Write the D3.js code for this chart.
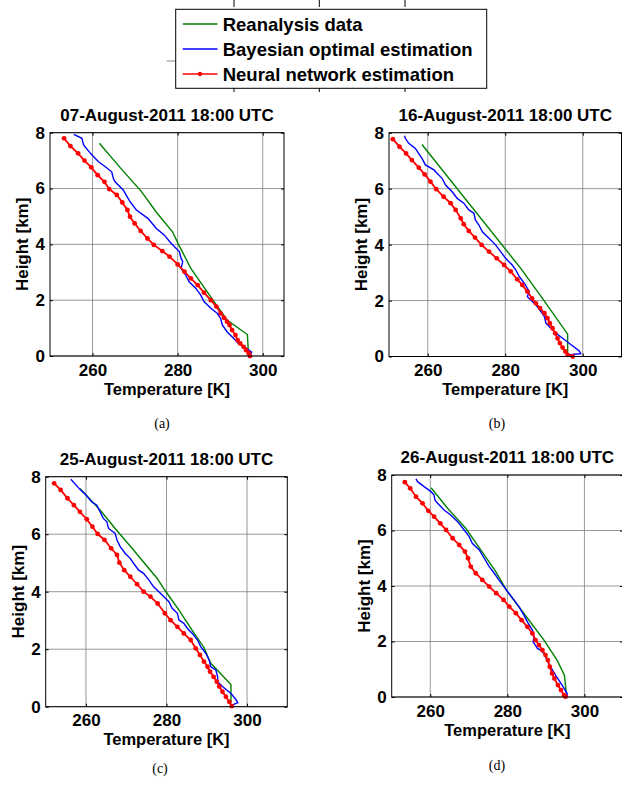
<!DOCTYPE html>
<html>
<head>
<meta charset="utf-8">
<script src="https://cdn.jsdelivr.net/npm/d3@7"></script>
<style>
 body{margin:0;background:#fff;}
 svg{display:block;}
 text{font-family:'Liberation Sans',Arial,sans-serif;}
</style>
</head>
<body>
<div id="chart"></div>
<script>
// values, [temperature K, height km]
var titles = ["07-August-2011 18:00 UTC","16-August-2011 18:00 UTC","25-August-2011 18:00 UTC","26-August-2011 18:00 UTC"];
var tags = ["(a)","(b)","(c)","(d)"];
var seriesNames = ["Reanalysis data","Bayesian optimal estimation","Neural network estimation"];
var xTicks = [260,280,300];
var yTicks = [0,2,4,6,8];

var reanA = [[261.6,7.62],[266.5,6.75],[271.5,5.89],[275,5.15],[278.8,4.45],[280.2,4.0],[283.1,3.14],[288.1,2.05],[291.6,1.29],[296.4,0.77],[296.6,0.2]];
var bayesA = [[255.6,7.94],[257.5,7.8],[257.9,7.56],[259.5,7.26],[261.4,6.96],[263,6.78],[264.5,6.6],[264.9,6.36],[265.3,6.24],[267.2,5.95],[268.8,5.53],[270.3,5.23],[273,4.93],[275,4.57],[276.9,4.33],[278.1,4.1],[279.2,3.92],[280.4,3.74],[280.8,3.5],[281.2,3.38],[280.8,3.14],[281.9,2.9],[282.7,2.66],[284.3,2.42],[285.4,2.19],[286.2,1.95],[287.8,1.71],[289.3,1.53],[290.1,1.35],[290.5,1.11],[291.6,0.87],[293.2,0.63],[294.3,0.45],[296.3,0.27],[297.4,0.14],[297,0.04]];
var nnA = [[253.3,7.8],[254.8,7.52],[256.6,7.26],[258.1,7.0],[259.7,6.76],[261.2,6.48],[262.8,6.24],[263.9,5.98],[265.7,5.77],[267,5.5],[268.2,5.23],[268.8,4.99],[269.9,4.75],[271.3,4.48],[272.9,4.21],[274.4,3.98],[276.4,3.76],[278.1,3.56],[280,3.28],[281.6,3.02],[283.1,2.78],[284.7,2.54],[286.2,2.27],[287.8,2.0],[289.1,1.77],[290.1,1.53],[290.9,1.37],[291.6,1.23],[292.2,1.11],[292.8,0.93],[293.6,0.75],[294.1,0.57],[294.7,0.45],[295.5,0.33],[296.1,0.21],[296.7,0.1],[297,0.0]];

var reanB = [[258.5,7.58],[284,3.15],[289.6,2.08],[296.1,0.8],[296.1,0.12]];
var bayesB = [[254,7.89],[254.2,7.8],[255.1,7.62],[256.8,7.44],[258.5,7.08],[259.4,6.85],[261.6,6.67],[262.4,6.55],[263.7,6.37],[264.6,6.13],[266.3,5.89],[267.6,5.65],[269.3,5.48],[270.6,5.24],[271.9,5.12],[272.3,4.88],[273.2,4.7],[274.1,4.46],[275.8,4.23],[277.5,3.99],[278.8,3.75],[280.1,3.51],[281.8,3.27],[282.7,3.1],[283.6,2.86],[284.9,2.62],[285.7,2.44],[286.2,2.32],[285.7,2.14],[286.6,2.02],[287.9,1.85],[289.2,1.61],[290.1,1.43],[290.5,1.19],[291.8,1.01],[293.1,0.83],[294.8,0.65],[297,0.42],[299.1,0.2],[299.5,0.1],[297.8,0.08],[296.5,0.06]];
var nnB = [[251,7.77],[252.7,7.5],[254.4,7.26],[255.9,7.02],[257.7,6.75],[259.2,6.51],[260.7,6.25],[262.2,5.98],[264.1,5.71],[265.9,5.48],[267.2,5.24],[268.5,4.94],[269.3,4.73],[270.6,4.49],[272.2,4.25],[273.9,3.99],[275.8,3.75],[277.8,3.51],[279.7,3.27],[281.4,3.04],[283.1,2.76],[284.4,2.56],[285.7,2.32],[286.9,2.08],[287.9,1.9],[289,1.73],[290.1,1.55],[290.9,1.37],[291.5,1.19],[292.2,1.01],[292.9,0.83],[293.5,0.65],[294.1,0.48],[294.8,0.32],[295.5,0.18],[296.1,0.06],[297.4,0.0]];

var reanC = [[258.5,7.59],[263.5,6.84],[267.25,6.2],[271.8,5.45],[277.7,4.46],[279.6,4.05],[283.1,3.36],[286.8,2.57],[289.3,2.06],[291,1.51],[296,0.77],[296,0.12]];
var bayesC = [[256.25,7.91],[258.5,7.56],[260,7.36],[261.4,7.13],[262.7,7.01],[263.5,6.78],[264.3,6.55],[265.2,6.43],[265.6,6.2],[267.25,6.03],[267.7,5.8],[268.5,5.57],[269.75,5.33],[271,5.16],[271.8,4.99],[273.1,4.75],[274.3,4.64],[275.6,4.41],[276.8,4.17],[278.1,4.0],[279.3,3.83],[280.6,3.65],[281.4,3.42],[282.7,3.25],[283.1,3.01],[284.3,2.9],[285.2,2.72],[286.4,2.55],[287.7,2.32],[288.5,2.09],[289.75,1.86],[290.6,1.62],[291,1.39],[292.25,1.28],[292.7,1.04],[292.7,0.87],[293.9,0.7],[296,0.46],[297.25,0.25],[297.7,0.14],[296.4,0.06]];
var nnC = [[252.1,7.77],[253.7,7.54],[255.4,7.25],[257,7.01],[258.5,6.78],[260.2,6.52],[261.6,6.26],[262.9,6.01],[264.6,5.8],[266.25,5.51],[267.7,5.28],[268.3,5.01],[269.5,4.75],[271,4.52],[272.7,4.26],[274.3,4.0],[276,3.83],[277.8,3.59],[279.6,3.25],[281,3.01],[282.7,2.78],[284.3,2.55],[286,2.32],[287.25,2.03],[288.3,1.8],[289.3,1.57],[290.2,1.39],[290.8,1.22],[291.7,1.04],[292.5,0.87],[293.1,0.7],[293.9,0.52],[294.75,0.35],[295.6,0.17],[296.2,0.02]];

var reanD = [[260.2,7.54],[264.5,6.8],[269.2,6.08],[273.1,5.3],[277,4.52],[280,3.8],[284.3,3.01],[289.5,2.05],[292.9,1.33],[294.8,0.79],[295.3,0.13]];
var bayesD = [[256.3,7.86],[256.7,7.76],[258.4,7.58],[260.2,7.4],[261,7.28],[261.2,7.1],[261.9,6.98],[263.6,6.74],[265.3,6.56],[267.1,6.32],[268.8,6.02],[270.1,5.78],[270.9,5.54],[272.7,5.3],[274,5.0],[275.3,4.7],[276.6,4.46],[277.8,4.22],[279.1,3.98],[280.4,3.74],[281.7,3.5],[283,3.26],[284.3,2.95],[285.2,2.71],[286.5,2.41],[286.9,2.17],[286.7,1.99],[287.8,1.75],[288.6,1.69],[289.5,1.57],[290.3,1.33],[291.2,1.09],[292.5,0.79],[294.2,0.43],[295.5,0.13],[295.5,0.04]];
var nnD = [[253.4,7.74],[254.8,7.52],[256.3,7.22],[258,6.98],[259.5,6.71],[261,6.5],[262.6,6.26],[264.1,6.02],[265.8,5.72],[267.5,5.48],[269,5.24],[269.8,5.0],[270.5,4.7],[271.8,4.46],[273.5,4.22],[275.3,3.98],[277.1,3.74],[279,3.5],[280.5,3.26],[282.2,3.02],[283.7,2.77],[285.2,2.53],[286.5,2.29],[287.3,2.05],[288.2,1.87],[289.1,1.69],[289.9,1.51],[290.5,1.33],[291,1.09],[291.6,0.85],[292.2,0.67],[293.1,0.43],[293.9,0.25],[294.7,0.07],[295.1,0.01]];

var W = 622, H = 787;
var svg = d3.select('#chart').append('svg')
    .attr('width', W).attr('height', H)
    .style('background-color', '#fff');

var colors = ['#008000', '#0000ff', '#ff0000'];

// panel boxes: left, right, top, bottom (pixels)
var panels = [
  {title: titles[0], tag: tags[0], box: [50, 284, 132.7, 356], xmax: 305, data: [reanA, bayesA, nnA], tagAt: [162, 428]},
  {title: titles[1], tag: tags[1], box: [389, 621.5, 132.7, 356.5], xmax: 310, data: [reanB, bayesB, nnB], tagAt: [497, 428]},
  {title: titles[2], tag: tags[2], box: [45.7, 287.3, 476.7, 706.7], xmax: 310, data: [reanC, bayesC, nnC], tagAt: [160, 773]},
  {title: titles[3], tag: tags[3], box: [391.7, 623, 475, 697], xmax: 310, data: [reanD, bayesD, nnD], tagAt: [497, 770]}
];

panels.forEach(drawPanel);

function drawPanel(p){
  var L = p.box[0], R = p.box[1], T = p.box[2], B = p.box[3];
  var x = d3.scaleLinear().domain([250, p.xmax]).range([L, R]);
  var y = d3.scaleLinear().domain([0, 8]).range([B, T]);
  var g = svg.append('g');

  // grid
  g.selectAll('line.gx').data(xTicks).enter().append('line')
    .attr('x1', function(d){ return x(d); }).attr('x2', function(d){ return x(d); })
    .attr('y1', T).attr('y2', B)
    .attr('stroke', '#7a7a7a').attr('stroke-width', 0.9).attr('stroke-opacity', 0.85);
  g.selectAll('line.gy').data(yTicks).enter().append('line')
    .attr('x1', L).attr('x2', R)
    .attr('y1', function(d){ return y(d); }).attr('y2', function(d){ return y(d); })
    .attr('stroke', '#7a7a7a').attr('stroke-width', 0.9).attr('stroke-opacity', 0.85);

  // curves
  var line = d3.line().x(function(d){ return x(d[0]); }).y(function(d){ return y(d[1]); });
  g.append('path').datum(p.data[0]).attr('d', line)
    .attr('fill', 'none').attr('stroke', colors[0]).attr('stroke-width', 1.4);
  g.append('path').datum(p.data[1]).attr('d', line)
    .attr('fill', 'none').attr('stroke', colors[1]).attr('stroke-width', 1.4);
  g.append('path').datum(p.data[2]).attr('d', line)
    .attr('fill', 'none').attr('stroke', colors[2]).attr('stroke-width', 1.8);
  g.selectAll('circle.nn').data(p.data[2]).enter().append('circle')
    .attr('cx', function(d){ return x(d[0]); })
    .attr('cy', function(d){ return y(d[1]); })
    .attr('r', 2.4).attr('fill', colors[2]);

  // axes with inward ticks
  var ax = g.append('g').attr('transform', 'translate(0,' + B + ')')
    .call(d3.axisBottom(x).tickValues(xTicks).tickSizeInner(-3).tickSizeOuter(0).tickPadding(7.5));
  var ay = g.append('g').attr('transform', 'translate(' + L + ',0)')
    .call(d3.axisLeft(y).tickValues(yTicks).tickSizeInner(-3).tickSizeOuter(0).tickPadding(5));
  g.append('g').attr('transform', 'translate(0,' + T + ')')
    .call(d3.axisTop(x).tickValues(xTicks).tickSizeInner(-3).tickSizeOuter(0).tickFormat(''));
  g.append('g').attr('transform', 'translate(' + R + ',0)')
    .call(d3.axisRight(y).tickValues(yTicks).tickSizeInner(-3).tickSizeOuter(0).tickFormat(''));
  g.selectAll('.domain').remove();
  g.selectAll('.tick line').attr('stroke', '#000');
  [ax, ay].forEach(function(a){
    a.selectAll('text').attr('font-size', '17px').attr('font-weight', 'bold')
      .style('font-family', "'Liberation Sans',Arial,sans-serif").attr('fill', '#000');
  });

  g.append('rect').attr('x', L).attr('y', T).attr('width', R - L).attr('height', B - T)
    .attr('fill', 'none').attr('stroke', '#000').attr('stroke-width', 1);

  // labels
  g.append('text').attr('x', (L + R) / 2).attr('y', T - 12)
    .attr('text-anchor', 'middle').attr('font-size', '17px').attr('font-weight', 'bold')
    .text(p.title);
  g.append('text').attr('x', (L + R) / 2).attr('y', B + 38.5)
    .attr('text-anchor', 'middle').attr('font-size', '16.5px').attr('font-weight', 'bold')
    .text('Temperature [K]');
  g.append('text')
    .attr('transform', 'translate(' + (L - 28) + ',' + ((T + B) / 2) + ') rotate(-90)')
    .attr('dy', '0.35em')
    .attr('text-anchor', 'middle').attr('font-size', '17px').attr('font-weight', 'bold')
    .text('Height [km]');
  // subfigure tag in a serif face (style beats the css rule above)
  svg.append('text').attr('x', p.tagAt[0]).attr('y', p.tagAt[1])
    .attr('text-anchor', 'middle').attr('font-size', '14px')
    .style('font-family', "'Liberation Serif','Times New Roman',serif")
    .text(p.tag);
}

// legend (sits over an empty axes whose ticks peek out)
var lg = svg.append('g');
var hidTicks = [234, 319.3, 405];
lg.append('line').attr('x1', 166.7).attr('x2', 176).attr('y1', 61).attr('y2', 61)
  .attr('stroke', '#888').attr('stroke-width', 1);
lg.selectAll('line.ht').data(hidTicks).enter().append('line')
  .attr('x1', function(d){ return d; }).attr('x2', function(d){ return d; })
  .attr('y1', 0).attr('y2', 7).attr('stroke', '#000').attr('stroke-width', 1);
lg.selectAll('line.hb').data(hidTicks).enter().append('line')
  .attr('x1', function(d){ return d; }).attr('x2', function(d){ return d; })
  .attr('y1', 85).attr('y2', 92).attr('stroke', '#000').attr('stroke-width', 1);

var box = {x: 175.7, y: 9.3, w: 311, h: 79};
lg.append('rect').attr('x', box.x).attr('y', box.y).attr('width', box.w).attr('height', box.h)
  .attr('fill', '#fff').attr('stroke', '#000').attr('stroke-width', 1);

var rowY = d3.scalePoint().domain(seriesNames).range([24, 74]);
var rows = lg.selectAll('g.row').data(seriesNames).enter().append('g')
  .attr('transform', function(d){ return 'translate(0,' + rowY(d) + ')'; });
rows.append('line').attr('x1', 182.7).attr('x2', 217.5).attr('y1', 0).attr('y2', 0)
  .attr('stroke', function(d, i){ return colors[i]; })
  .attr('stroke-width', function(d, i){ return i == 2 ? 1.6 : 1.4; });
rows.filter(function(d, i){ return i == 2; }).append('circle')
  .attr('cx', 200).attr('cy', 0).attr('r', 2.2).attr('fill', colors[2]);
rows.append('text').attr('x', 222.7).attr('dy', '0.36em')
  .attr('font-size', '18.5px').attr('font-weight', 'bold')
  .text(function(d){ return d; });
</script>
</body>
</html>
